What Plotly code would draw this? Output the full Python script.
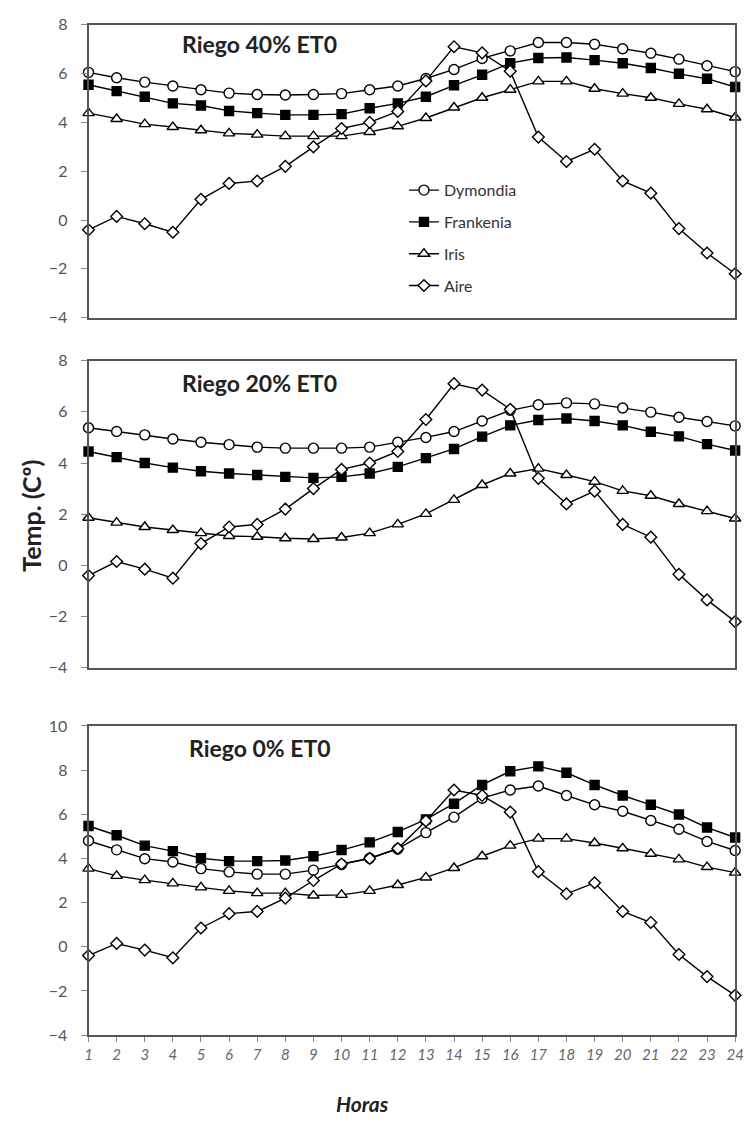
import plotly.graph_objects as go

horas = list(range(1, 25))
tick_labels = [str(h) for h in horas]

aire = [-0.4, 0.15, -0.15, -0.5, 0.85, 1.5, 1.6, 2.2, 3.0, 3.75, 4.0, 4.45,
        5.7, 7.1, 6.85, 6.1, 3.4, 2.4, 2.9, 1.6, 1.1, -0.35, -1.35, -2.2]

# Riego 40% ET0
dym40 = [6.05, 5.83, 5.65, 5.49, 5.34, 5.2, 5.14, 5.12, 5.14, 5.18, 5.34, 5.49,
         5.8, 6.17, 6.62, 6.93, 7.27, 7.27, 7.2, 7.02, 6.83, 6.59, 6.32, 6.08]
fra40 = [5.54, 5.28, 5.05, 4.78, 4.69, 4.47, 4.38, 4.31, 4.31, 4.34, 4.58, 4.78,
         5.05, 5.52, 5.95, 6.43, 6.64, 6.66, 6.55, 6.42, 6.23, 5.99, 5.79, 5.45]
iri40 = [4.38, 4.14, 3.93, 3.81, 3.68, 3.55, 3.5, 3.44, 3.44, 3.44, 3.61, 3.84,
         4.18, 4.61, 5.01, 5.34, 5.68, 5.68, 5.38, 5.18, 5.01, 4.76, 4.54, 4.2]

# Riego 20% ET0
dym20 = [5.38, 5.23, 5.1, 4.94, 4.81, 4.72, 4.62, 4.58, 4.58, 4.58, 4.62, 4.81,
         5.0, 5.23, 5.64, 6.06, 6.28, 6.35, 6.31, 6.15, 5.99, 5.79, 5.62, 5.45]
fra20 = [4.45, 4.23, 4.0, 3.82, 3.68, 3.59, 3.53, 3.46, 3.42, 3.46, 3.59, 3.85,
         4.19, 4.55, 5.03, 5.47, 5.68, 5.74, 5.64, 5.47, 5.22, 5.04, 4.74, 4.49]
iri20 = [1.86, 1.67, 1.5, 1.38, 1.26, 1.15, 1.12, 1.06, 1.03, 1.09, 1.26, 1.6,
         2.01, 2.56, 3.14, 3.59, 3.78, 3.53, 3.27, 2.91, 2.72, 2.4, 2.12, 1.83]

# Riego 0% ET0
dym0 = [4.8, 4.39, 3.99, 3.84, 3.54, 3.39, 3.29, 3.29, 3.47, 3.73, 4.01, 4.43,
        5.17, 5.87, 6.73, 7.1, 7.28, 6.85, 6.43, 6.14, 5.72, 5.32, 4.77, 4.36]
fra0 = [5.47, 5.05, 4.58, 4.33, 4.01, 3.88, 3.88, 3.91, 4.1, 4.38, 4.73, 5.2,
        5.77, 6.48, 7.33, 7.95, 8.17, 7.88, 7.33, 6.85, 6.43, 5.99, 5.4, 4.95]
iri0 = [3.54, 3.21, 3.02, 2.87, 2.69, 2.53, 2.43, 2.43, 2.32, 2.35, 2.53, 2.8,
        3.14, 3.57, 4.1, 4.58, 4.9, 4.9, 4.7, 4.46, 4.21, 3.96, 3.61, 3.36]

series_names = ["Dymondia", "Frankenia", "Iris", "Aire"]
panels = [
    ("Riego 40% ET0", [dym40, fra40, iri40, aire], [-4, 8], [-4, -2, 0, 2, 4, 6, 8]),
    ("Riego 20% ET0", [dym20, fra20, iri20, aire], [-4, 8], [-4, -2, 0, 2, 4, 6, 8]),
    ("Riego 0% ET0", [dym0, fra0, iri0, aire], [-4, 10], [-4, -2, 0, 2, 4, 6, 8, 10]),
]

styles = {
    "Dymondia": dict(symbol="circle", size=10, color="white"),
    "Frankenia": dict(symbol="square", size=9, color="black"),
    "Iris": dict(symbol="triangle-up", size=10, color="white"),
    "Aire": dict(symbol="diamond", size=9, color="white"),
}

W, H = 753, 1124
x0, x1 = 86 / W, 744 / W
doms = [
    (1 - 313 / H, 1 - 15 / H),
    (1 - 669 / H, 1 - 356.7 / H),
    (1 - 1042.7 / H, 1 - 728.3 / H),
]

fig = go.Figure()
FONT = "Lato"
axis_col = "#555555"

for i, (title, data, yr, yt) in enumerate(panels):
    n = i + 1
    xa = "x" if n == 1 else f"x{n}"
    ya = "y" if n == 1 else f"y{n}"
    for name, vals in zip(series_names, data):
        st = styles[name]
        fig.add_trace(go.Scatter(
            x=horas, y=vals, mode="lines+markers", name=name,
            xaxis=xa, yaxis=ya, cliponaxis=False,
            showlegend=(i == 0), legendgroup=name,
            line=dict(color="black", width=1.4),
            marker=dict(symbol=st["symbol"], size=st["size"], color=st["color"],
                        line=dict(color="black", width=1.4)),
        ))
    fig.layout[f"xaxis{'' if n == 1 else n}"] = dict(
        domain=[x0, x1], range=[1, 24], anchor=ya,
        showline=True, mirror=True, linecolor=axis_col, linewidth=1.8,
        showgrid=False, zeroline=False,
        tickmode="array", tickvals=horas, ticktext=tick_labels,
        showticklabels=(n == 3), ticks="outside" if n == 3 else "",
        ticklen=5, tickcolor="#888888",
        tickfont=dict(family=FONT, size=15, color="#666666", style="italic"),
    )
    fig.layout[f"yaxis{'' if n == 1 else n}"] = dict(
        domain=list(doms[i]), range=yr, anchor=xa,
        showline=True, mirror=True, linecolor=axis_col, linewidth=1.8,
        showgrid=False, zeroline=False,
        tickmode="array", tickvals=yt, ticks="outside", ticklen=6,
        tickcolor="#888888", ticklabelstandoff=10,
        tickfont=dict(family=FONT, size=16, color="#555555"),
    )
    fig.add_annotation(
        text=f"<b>{title}</b>", xref="paper", yref="paper",
        x=260 / W, y=1 - [35, 379, 751][i] / H, xanchor="center", yanchor="middle",
        showarrow=False, font=dict(family=FONT, size=23, color="#222222"),
    )

fig.add_annotation(
    text="<b>Temp. (Cº)</b>", xref="paper", yref="paper",
    x=28 / W, y=1 - 515 / H, textangle=-90, xanchor="center", yanchor="middle",
    showarrow=False, font=dict(family=FONT, size=25, color="#222222"),
)
fig.add_annotation(
    text="<b><i>Horas</i></b>", xref="paper", yref="paper",
    x=365 / W, y=1 - 1112 / H, xanchor="center", yanchor="middle",
    showarrow=False, font=dict(family=FONT, size=21, color="#222222"),
)

fig.update_layout(
    width=W, height=H, margin=dict(l=0, r=0, t=0, b=0),
    paper_bgcolor="white", plot_bgcolor="white",
    legend=dict(x=407 / W, y=1 - 166 / H, xanchor="left", yanchor="top",
                bgcolor="rgba(0,0,0,0)", tracegroupgap=8, itemwidth=30,
                font=dict(family=FONT, size=16, color="#333333")),
)

fig.write_html("out.html")
